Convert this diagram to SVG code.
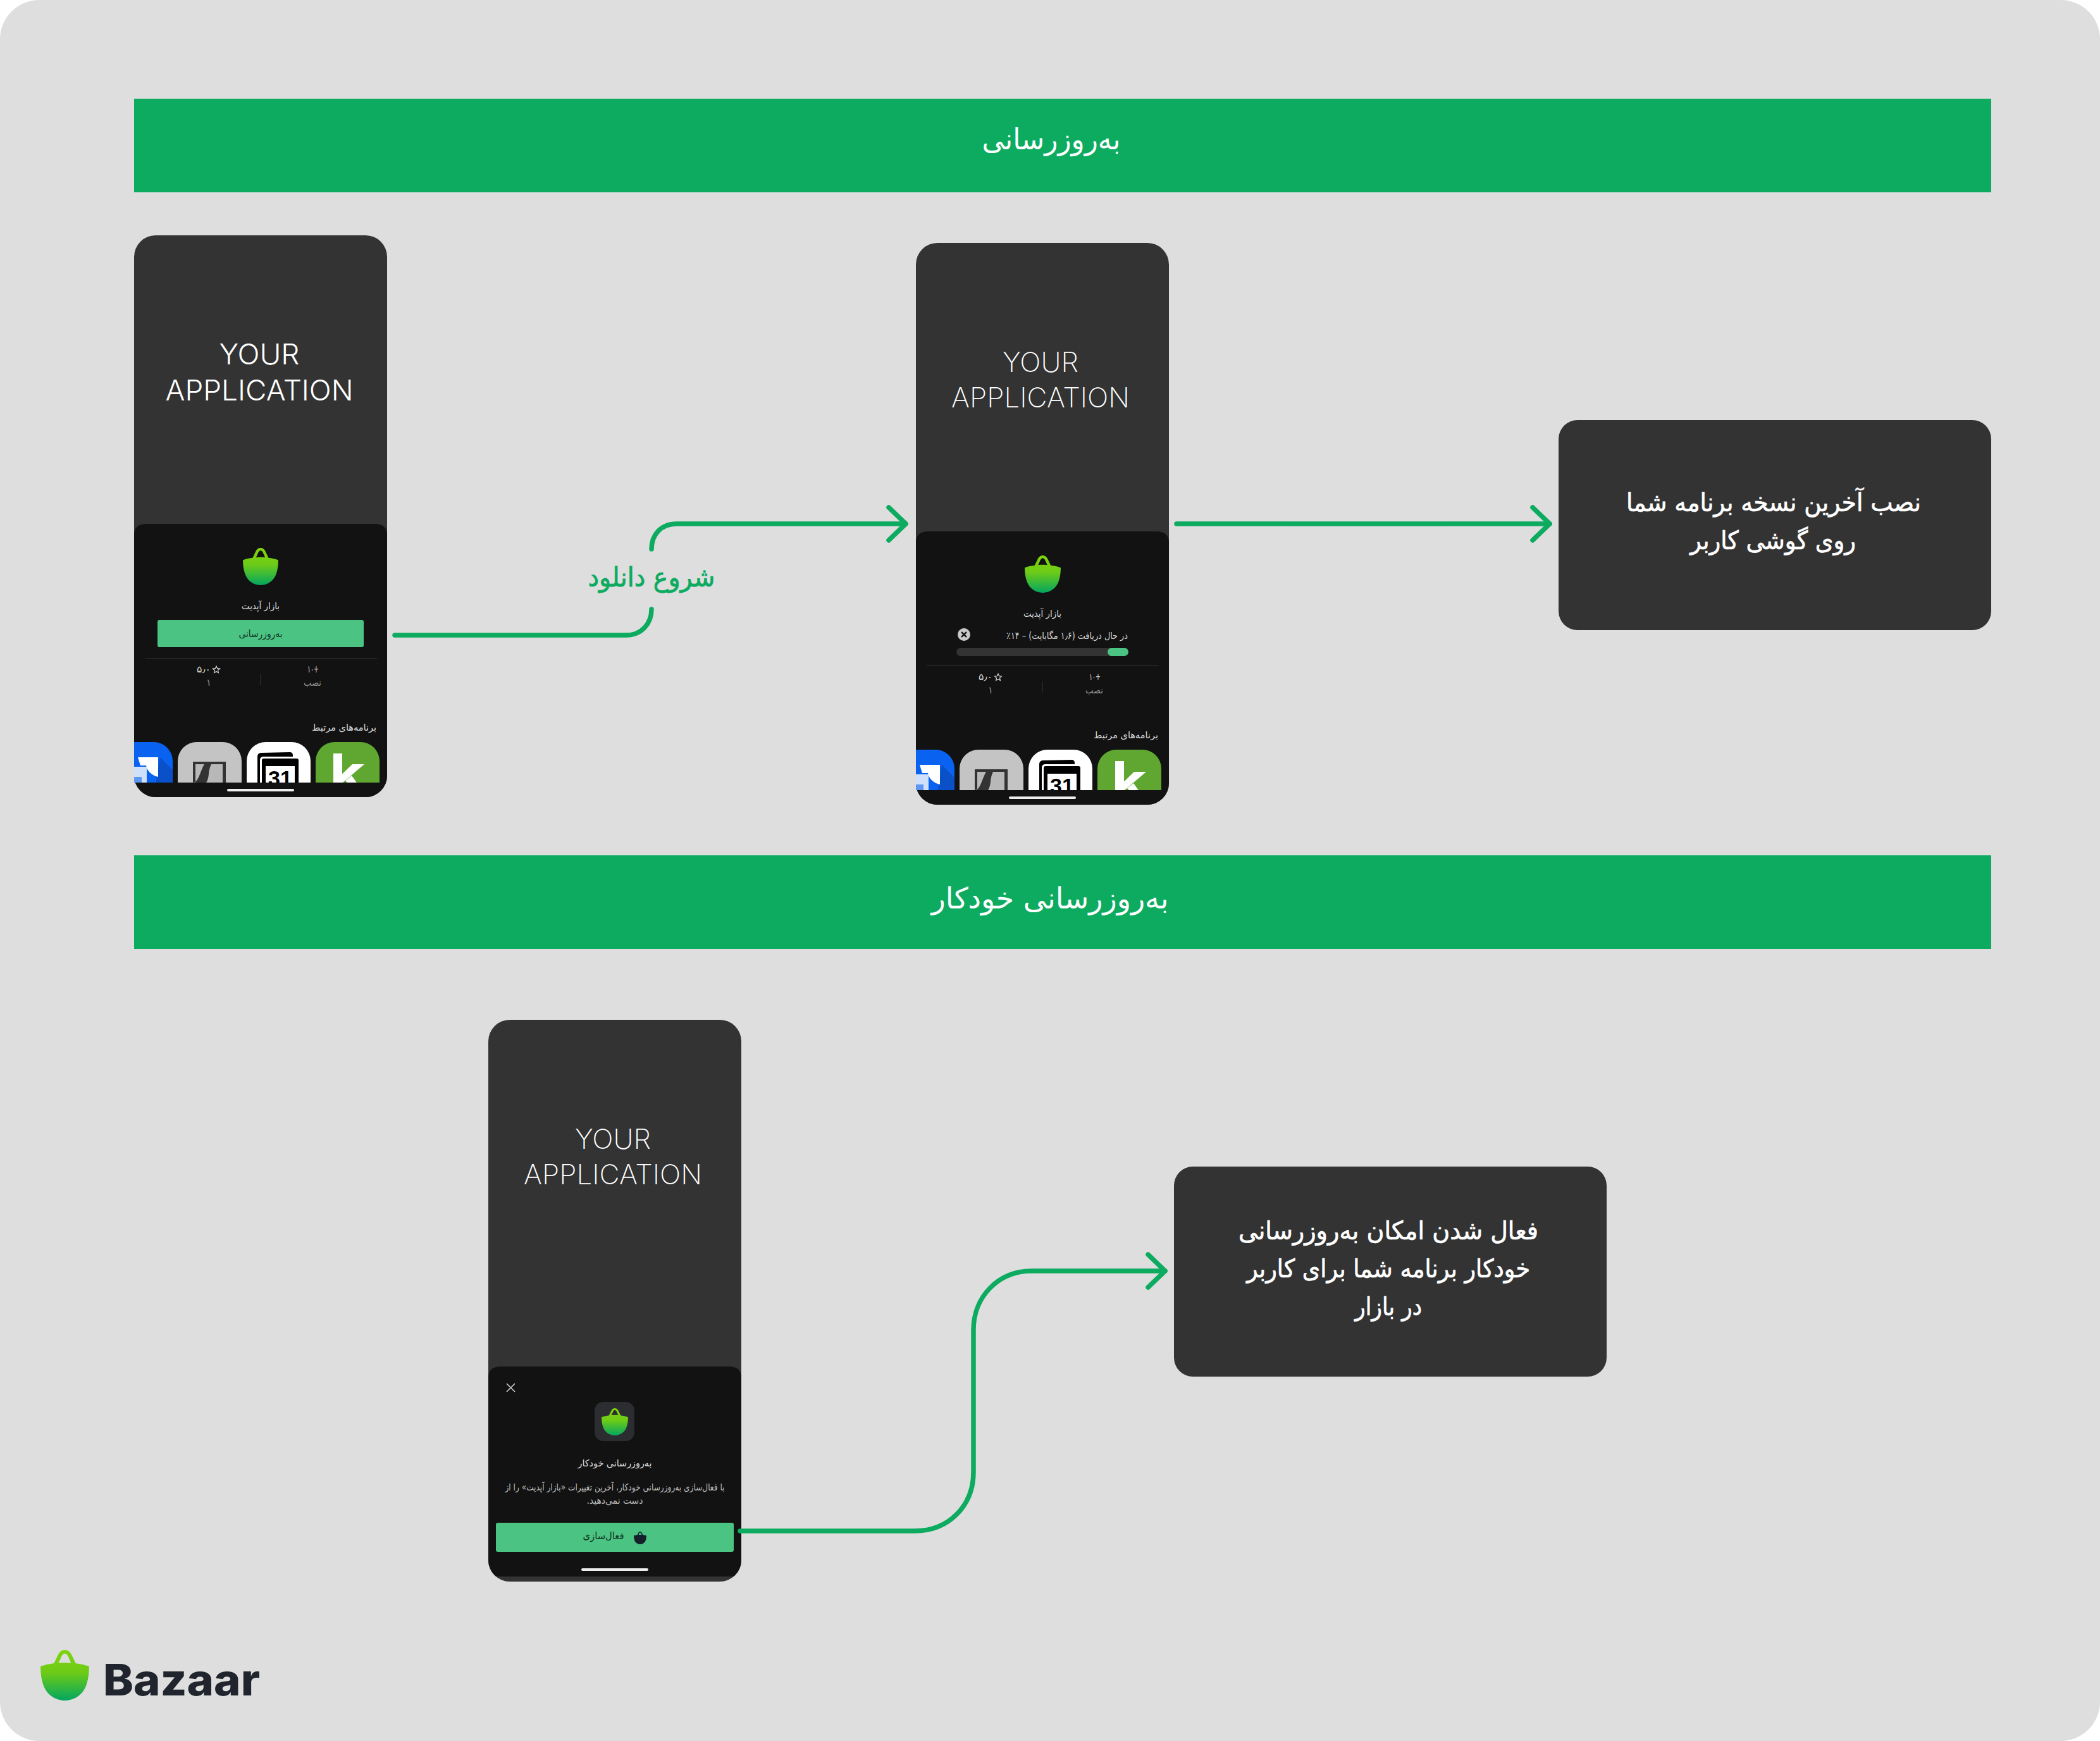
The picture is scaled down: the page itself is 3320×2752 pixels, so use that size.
<svg xmlns="http://www.w3.org/2000/svg" xmlns:xlink="http://www.w3.org/1999/xlink" width="3320" height="2752" viewBox="0 0 3320 2752">
<style>
text{font-family:"DejaVu Sans",sans-serif;text-anchor:middle}
.fa{direction:rtl}
.latin{font-family:"Inter","Liberation Sans",sans-serif;fill:#fff}
.banner{fill:#0dab60}
.btitle{fill:#fff;font-size:46px}
.box{fill:#333}
.boxt{fill:#fff;font-size:40px;stroke:#fff;stroke-width:.7}
.phone{fill:#333}
.sheet{fill:#121212}
.btn{fill:#4bc483}
.sm{fill:#d8d8d8;font-size:15px}
.smd{fill:#8f8f8f;font-size:15px}
.btnt{fill:#10301f;font-size:16px}
.wire{fill:none;stroke:#0dab60;stroke-width:7.5;stroke-linecap:round;stroke-linejoin:round}
.head{fill:none;stroke:#0dab60;stroke-width:7.5;stroke-linecap:round;stroke-linejoin:round}
.rule{stroke:#2a2a2a;stroke-width:1.5;fill:none}
</style>
<defs>
<linearGradient id="bagG" x1="0" y1="0" x2="0" y2="1">
<stop offset="0" stop-color="#80d40b"/><stop offset="0.45" stop-color="#6dcb17"/><stop offset="1" stop-color="#03a660"/>
</linearGradient>
<symbol id="bag" viewBox="0 0 231 240" preserveAspectRatio="none">
<path fill-rule="evenodd" d="M0,79C18,71 45,66 64,64L82,26C90,8 103,0 115.5,0C128,0 141,8 149,26L167,64C186,66 213,71 231,79C230,110 228,135 218,165C203,212 160,240 115.5,240C71,240 28,212 13,165C3,135 1,110 0,79ZM86,62L100,30C105,20 110,17 115.5,17C121,17 126,20 131,30L145,62C125,60 106,60 86,62Z"/>
</symbol>
<marker id="chev" markerUnits="userSpaceOnUse" viewBox="-60 -40 70 80" refX="0" refY="0" markerWidth="70" markerHeight="80" orient="auto" overflow="visible">
<path class="head" d="M-27,-26L0,0L-27,26"/>
</marker>
<clipPath id="c1"><rect x="212" y="372" width="400" height="888" rx="34"/></clipPath>
<clipPath id="c2"><rect x="1448" y="384" width="400" height="888" rx="34"/></clipPath>
<clipPath id="c3"><rect x="772" y="1612" width="400" height="888" rx="34"/></clipPath>
<clipPath id="rowclip"><rect x="212" y="1170" width="400" height="67"/></clipPath>
<g id="apps">
<g clip-path="url(#rowclip)">
<rect x="170" y="1173" width="103" height="110" rx="30" fill="#0a63f0"/>
<path d="M253,1197L273,1217V1245H245Z" fill="#0a50c8"/>
<path d="M218,1197H250V1228C240,1226 232,1218 231,1210H222Z" fill="#fff"/>
<rect x="212" y="1212" width="20" height="27" fill="#cfe0fb"/>
<path d="M212,1228H224V1237H212Z" fill="#5d97f0"/>
<rect x="281" y="1173" width="101" height="110" rx="30" fill="#c4c4c4"/>
<rect x="305" y="1204" width="52" height="50" fill="#333"/>
<path d="M309,1208H323C316,1220 314,1237 305,1237H309Z" fill="#b8b8b8"/>
<path d="M334,1208H352V1237H326C332,1228 328,1220 334,1208Z" fill="#b8b8b8"/>
<rect x="390" y="1173" width="101" height="110" rx="30" fill="#fff"/>
<path d="M407,1196Q407,1191 412,1190L458,1189Q463,1189 463,1194V1240H407Z" fill="#000"/>
<rect x="411" y="1196" width="63" height="50" rx="5" fill="#fff"/>
<rect x="414" y="1199" width="58" height="50" rx="3" fill="#000"/>
<rect x="420" y="1211" width="46" height="40" fill="#fff"/>
<text x="443" y="1242" style="font-family:'Liberation Sans',sans-serif;font-weight:700;font-size:34px" fill="#000">31</text>
<rect x="499" y="1173" width="101" height="110" rx="30" fill="#5fa731"/>
<path d="M527,1191H541V1240H527Z" fill="#fff"/>
<path d="M557,1208H576L542,1237H527Z" fill="#fff"/>
<path d="M546,1234L556,1226L566,1240H552Z" fill="#fff"/>
</g>
</g>
</defs>
<rect width="3320" height="2752" fill="#fff"/>
<rect id="background" width="3320" height="2752" rx="62" fill="#dedede"/>

<g id="banner-update">
<rect class="banner" x="212" y="156" width="2936" height="148"/>
<text class="btitle fa" x="1662" y="236" textLength="219" lengthAdjust="spacingAndGlyphs">به‌روزرسانی</text>
</g>
<g id="banner-auto-update">
<rect class="banner" x="212" y="1352" width="2936" height="148"/>
<text class="btitle fa" x="1660" y="1436" textLength="375" lengthAdjust="spacingAndGlyphs">به‌روزرسانی خودکار</text>
</g>

<g id="phone-update">
<g clip-path="url(#c1)">
<rect class="phone" x="212" y="372" width="400" height="888"/>
<path class="sheet" d="M212,846Q212,828 232,828H592Q612,828 612,846V1260H212Z"/>
</g>
<text class="latin" x="410" y="576" font-size="45" font-weight="300" textLength="127" lengthAdjust="spacingAndGlyphs">YOUR</text>
<text class="latin" x="410" y="633" font-size="45" font-weight="300" textLength="297" lengthAdjust="spacingAndGlyphs">APPLICATION</text>
<use xlink:href="#bag" href="#bag" x="384" y="866" width="56" height="59" fill="url(#bagG)"/>
<text class="sm fa" x="412" y="963" textLength="60" lengthAdjust="spacingAndGlyphs">بازار آپدیت</text>
<rect class="btn" x="249" y="980" width="326" height="43" rx="3"/>
<text class="btnt fa" x="412" y="1007" textLength="69" lengthAdjust="spacingAndGlyphs">به‌روزرسانی</text>
<path class="rule" d="M229,1041H596M412,1065V1083"/>
<text class="sm" x="322" y="1063" textLength="22" lengthAdjust="spacingAndGlyphs" direction="rtl">۵٫۰</text>
<path d="M342,1053l1.6,3.6 3.9,.4-3,2.6 .9,3.9-3.4-2-3.4,2 .9-3.9-3-2.6 3.9-.4z" fill="none" stroke="#d8d8d8" stroke-width="1.2"/>
<text class="smd" x="330" y="1084">۱</text>
<text class="sm" x="495" y="1063" direction="ltr" textLength="18" lengthAdjust="spacingAndGlyphs">۱۰+</text>
<text class="smd fa" x="494" y="1084" textLength="28" lengthAdjust="spacingAndGlyphs">نصب</text>
<text class="sm fa" x="544" y="1155" textLength="102" lengthAdjust="spacingAndGlyphs">برنامه‌های مرتبط</text>
<use xlink:href="#apps" href="#apps"/>
<rect x="359" y="1247" width="106" height="4" rx="2" fill="#eee"/>
</g>

<g id="phone-downloading">
<g clip-path="url(#c2)">
<rect class="phone" x="1448" y="384" width="400" height="888"/>
<path class="sheet" d="M1448,858Q1448,840 1468,840H1828Q1848,840 1848,858V1272H1448Z"/>
</g>
<text class="latin" x="1645" y="588" font-size="43" font-weight="200" textLength="120" lengthAdjust="spacingAndGlyphs">YOUR</text>
<text class="latin" x="1645" y="644" font-size="43" font-weight="200" textLength="282" lengthAdjust="spacingAndGlyphs">APPLICATION</text>
<use xlink:href="#bag" href="#bag" x="1620" y="878" width="57" height="59" fill="url(#bagG)"/>
<text class="sm fa" x="1648" y="975" textLength="60" lengthAdjust="spacingAndGlyphs">بازار آپدیت</text>
<circle cx="1524" cy="1003" r="10" fill="#c9c9c9"/>
<path d="M1520,999L1528,1007M1528,999L1520,1007" stroke="#121212" stroke-width="2.4" fill="none"/>
<text class="sm fa" x="1687" y="1010" textLength="192" lengthAdjust="spacingAndGlyphs">در حال دریافت (۱٫۶ مگابایت) – ۱۴٪</text>
<rect x="1512" y="1024" width="272" height="13" rx="6.5" fill="#333"/>
<rect class="btn" x="1751" y="1024" width="33" height="13" rx="6.5"/>
<path class="rule" d="M1465,1052H1832M1648,1077V1095"/>
<text class="sm" x="1558" y="1075" textLength="22" lengthAdjust="spacingAndGlyphs" direction="rtl">۵٫۰</text>
<path d="M1578,1065l1.6,3.6 3.9,.4-3,2.6 .9,3.9-3.4-2-3.4,2 .9-3.9-3-2.6 3.9-.4z" fill="none" stroke="#d8d8d8" stroke-width="1.2"/>
<text class="smd" x="1566" y="1096">۱</text>
<text class="sm" x="1731" y="1075" direction="ltr" textLength="18" lengthAdjust="spacingAndGlyphs">۱۰+</text>
<text class="smd fa" x="1730" y="1096" textLength="28" lengthAdjust="spacingAndGlyphs">نصب</text>
<text class="sm fa" x="1780" y="1167" textLength="102" lengthAdjust="spacingAndGlyphs">برنامه‌های مرتبط</text>
<use xlink:href="#apps" href="#apps" transform="translate(1236,12)"/>
<rect x="1595" y="1259" width="106" height="4" rx="2" fill="#eee"/>
</g>

<g id="phone-auto-update">
<g clip-path="url(#c3)">
<rect class="phone" x="772" y="1612" width="400" height="888"/>
<path class="sheet" d="M772,2178Q772,2160 792,2160H1152Q1172,2160 1172,2178V2492H772Z"/>
</g>
<text class="latin" x="969" y="1816" font-size="43" font-weight="200" textLength="120" lengthAdjust="spacingAndGlyphs">YOUR</text>
<text class="latin" x="969" y="1872" font-size="43" font-weight="200" textLength="282" lengthAdjust="spacingAndGlyphs">APPLICATION</text>
<path d="M801,2187L814,2200M814,2187L801,2200" stroke="#cfcfcf" stroke-width="1.6" fill="none"/>
<rect x="940" y="2216" width="63" height="62" rx="14" fill="#2b2d31"/>
<use xlink:href="#bag" href="#bag" x="951" y="2226" width="42" height="43" fill="url(#bagG)"/>
<text class="sm fa" x="972" y="2318" textLength="117" lengthAdjust="spacingAndGlyphs">به‌روزرسانی خودکار</text>
<text class="sm fa" x="972" y="2356" textLength="347" lengthAdjust="spacingAndGlyphs" style="fill:#bbb">با فعال‌سازی به‌روزرسانی خودکار، آخرین تغییرات «بازار آپدیت» را از</text>
<text class="sm fa" x="972" y="2377" textLength="89" lengthAdjust="spacingAndGlyphs" style="fill:#bbb">دست نمی‌دهید.</text>
<rect class="btn" x="784" y="2407" width="376" height="46" rx="3"/>
<text class="btnt fa" x="954" y="2433" textLength="65" lengthAdjust="spacingAndGlyphs">فعال‌سازی</text>
<use xlink:href="#bag" href="#bag" x="1002" y="2421" width="20" height="20" fill="#14202a"/>
<rect x="919" y="2479" width="106" height="4" rx="2" fill="#eee"/>
</g>

<g id="box-install">
<rect class="box" x="2464" y="664" width="684" height="332" rx="30"/>
<text class="boxt fa" x="2804" y="808" textLength="466" lengthAdjust="spacingAndGlyphs">نصب آخرین نسخه برنامه شما</text>
<text class="boxt fa" x="2803" y="868" textLength="262" lengthAdjust="spacingAndGlyphs">روی گوشی کاربر</text>
</g>
<g id="box-auto-enable">
<rect class="box" x="1856" y="1844" width="684" height="332" rx="30"/>
<text class="boxt fa" x="2195" y="1959" textLength="474" lengthAdjust="spacingAndGlyphs">فعال شدن امکان به‌روزرسانی</text>
<text class="boxt fa" x="2195" y="2019" textLength="448" lengthAdjust="spacingAndGlyphs">خودکار برنامه شما برای کاربر</text>
<text class="boxt fa" x="2195" y="2079" textLength="106" lengthAdjust="spacingAndGlyphs">در بازار</text>
</g>

<g id="connectors">
<path class="wire" d="M624,1004H990C1015,1004 1030,985 1030,963"/>
<path class="wire" d="M1030,868C1030,845 1045,828 1070,828H1432" marker-end="url(#chev)"/>
<path class="wire" d="M1860,828H2450" marker-end="url(#chev)"/>
<path class="wire" d="M1170,2420H1446C1500,2420 1539,2380 1539,2327V2102C1539,2050 1578,2009 1631,2009H1842" marker-end="url(#chev)"/>
<text class="fa" x="1030" y="927" font-size="42" fill="#0dab60" stroke="#0dab60" stroke-width=".8" textLength="201" lengthAdjust="spacingAndGlyphs">شروع دانلود</text>
</g>

<g id="logo">
<use xlink:href="#bag" href="#bag" x="64" y="2608" width="77" height="80" fill="url(#bagG)"/>
<text x="287" y="2680" style="font-family:Inter,'Liberation Sans',sans-serif;font-weight:800" font-size="69" fill="#20242c" textLength="248" lengthAdjust="spacingAndGlyphs">Bazaar</text>
</g>
</svg>
